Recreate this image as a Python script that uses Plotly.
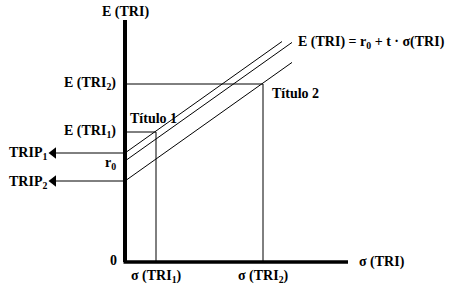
import plotly.graph_objects as go

# Diagram values (units: origin at the corner of the axes)
sigma_vals = [31, 138]                 # σ(TRI1), σ(TRI2)
e_vals = [130, 178]                    # E(TRI1), E(TRI2)
intercepts = [109, 101, 81]            # TRIP1, r0, TRIP2
intercept_labels = ["TRIP<sub>1</sub>", "r<sub>0</sub>", "TRIP<sub>2</sub>"]
slope_t = 0.71
line_x_start = [2, 2, 2]
line_x_end = [157, 167, 167]
x_axis_max = 223
y_axis_max = 242
arrow_tip_x = -76

FONT = dict(family="Liberation Serif", size=14, color="black")

fig = go.Figure()

# main axes
fig.add_trace(go.Scatter(x=[0, 0], y=[y_axis_max, 0], mode="lines",
                         line=dict(color="black", width=4), hoverinfo="skip"))
fig.add_trace(go.Scatter(x=[-1.5, x_axis_max], y=[0, 0], mode="lines",
                         line=dict(color="black", width=3.5), hoverinfo="skip"))

# three parallel lines
for b, xs, xe in zip(intercepts, line_x_start, line_x_end):
    fig.add_trace(go.Scatter(x=[xs, xe], y=[b + slope_t * xs, b + slope_t * xe],
                             mode="lines", line=dict(color="black", width=1),
                             hoverinfo="skip"))

# guide lines for the two titles
for s, e in zip(sigma_vals, e_vals):
    fig.add_trace(go.Scatter(x=[2, s, s], y=[e, e, 0], mode="lines",
                             line=dict(color="black", width=1), hoverinfo="skip"))

# arrows to TRIP1 and TRIP2
for b in [intercepts[0], intercepts[2]]:
    fig.add_trace(go.Scatter(x=[0, arrow_tip_x + 7], y=[b, b], mode="lines",
                             line=dict(color="black", width=1), hoverinfo="skip"))
    fig.add_trace(go.Scatter(x=[arrow_tip_x + 4.5], y=[b], mode="markers",
                             marker=dict(symbol="triangle-left", size=10, color="black"),
                             hoverinfo="skip"))

def txt(x, y, s, xa="center", ya="middle"):
    fig.add_annotation(x=x, y=y, text="<b>" + s + "</b>", showarrow=False,
                       xanchor=xa, yanchor=ya, font=FONT, xref="x", yref="y")

txt(0, 250, "E (TRI)")
txt(-7, e_vals[1] + 1, "E (TRI<sub>2</sub>)", xa="right")
txt(-7, e_vals[0] + 1, "E (TRI<sub>1</sub>)", xa="right")
txt(3, 144, "Título 1", xa="left")
txt(145, 169, "Título 2", xa="left")
txt(171, 220, "E (TRI) = r<sub>0</sub> + t · σ(TRI)", xa="left")
txt(-118, intercepts[0], intercept_labels[0], xa="left")
txt(-22, intercepts[1] - 2, intercept_labels[1], xa="left")
txt(-118, intercepts[2] - 1, intercept_labels[2], xa="left")
txt(-12, 2, "0", xa="center")
txt(sigma_vals[0], -14, "σ (TRI<sub>1</sub>)")
txt(sigma_vals[1], -14, "σ (TRI<sub>2</sub>)")
txt(232, 0, "σ (TRI)", xa="left")

fig.update_layout(
    width=455, height=291, margin=dict(l=0, r=0, t=0, b=0),
    paper_bgcolor="white", plot_bgcolor="white", showlegend=False,
    xaxis=dict(range=[-125, 330], visible=False, fixedrange=True),
    yaxis=dict(range=[-29, 262], visible=False, fixedrange=True),
)

fig.write_html("out.html")
